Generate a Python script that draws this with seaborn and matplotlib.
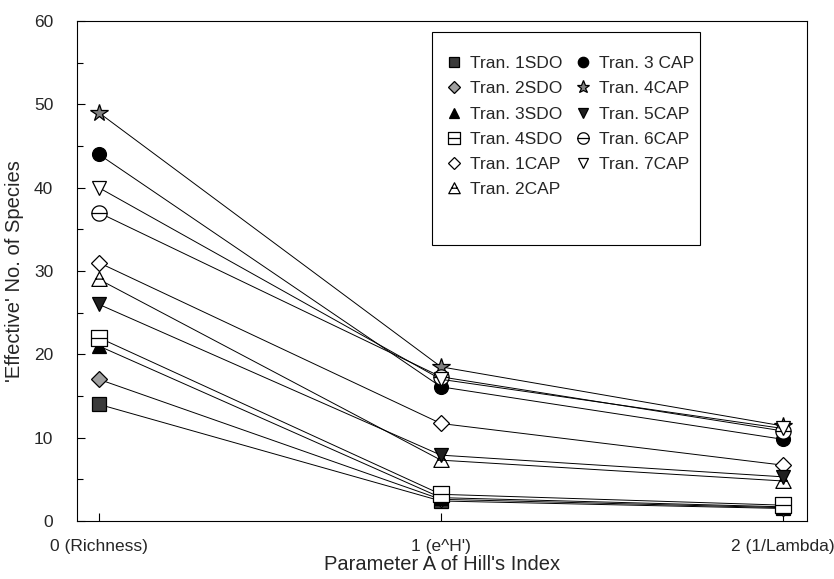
import numpy as np
import pandas as pd
import matplotlib
matplotlib.use("Agg")
import matplotlib.pyplot as plt
from matplotlib.path import Path
from matplotlib.patches import Rectangle
from matplotlib.ticker import MultipleLocator
import seaborn as sns

# x categories (parameter A of Hill's index)
x_vals = [0, 1, 2]
x_labels = ["0 (Richness)", "1 (e^H')", "2 (1/Lambda)"]

series = ["Tran. 1SDO", "Tran. 2SDO", "Tran. 3SDO", "Tran. 4SDO", "Tran. 1CAP",
          "Tran. 2CAP", "Tran. 3 CAP", "Tran. 4CAP", "Tran. 5CAP", "Tran. 6CAP", "Tran. 7CAP"]

sdo1 = [14, 2.4, 1.5]
sdo2 = [17, 2.6, 1.6]
sdo3 = [21, 2.8, 1.7]
sdo4 = [22, 3.2, 1.9]
cap1 = [31, 11.7, 6.7]
cap2 = [29, 7.3, 4.8]
cap3 = [44, 16.1, 9.8]
cap4 = [49, 18.5, 11.4]
cap5 = [26, 7.9, 5.3]
cap6 = [37, 17.3, 10.8]
cap7 = [40, 17.0, 11.1]

values = [sdo1, sdo2, sdo3, sdo4, cap1, cap2, cap3, cap4, cap5, cap6, cap7]

# custom marker shapes (open symbols with a bar through them)
sq_line = Path([(-1, -1), (1, -1), (1, 1), (-1, 1), (-1, -1), (-1, 0), (1, 0)],
               [Path.MOVETO, Path.LINETO, Path.LINETO, Path.LINETO, Path.CLOSEPOLY,
                Path.MOVETO, Path.LINETO])
tri_line = Path([(-1, -0.9), (1, -0.9), (0, 1), (-1, -0.9), (-0.5, 0.05), (0.5, 0.05)],
                [Path.MOVETO, Path.LINETO, Path.LINETO, Path.CLOSEPOLY,
                 Path.MOVETO, Path.LINETO])
t = np.linspace(0, 2 * np.pi, 40)
circ_pts = list(zip(np.cos(t), np.sin(t)))
circ_line = Path(circ_pts + [(-1, 0), (1, 0)],
                 [Path.MOVETO] + [Path.LINETO] * 39 + [Path.MOVETO, Path.LINETO])

styles = [
    dict(marker="s", mfc="#3a3a3a", ms=10),
    dict(marker="D", mfc="#a0a0a0", ms=8),
    dict(marker="^", mfc="black", ms=10),
    dict(marker=sq_line, mfc="white", ms=11),
    dict(marker="D", mfc="white", ms=8),
    dict(marker=tri_line, mfc="white", ms=11),
    dict(marker="o", mfc="black", ms=10),
    dict(marker="*", mfc="#808080", ms=13),
    dict(marker="v", mfc="#202020", ms=10),
    dict(marker=circ_line, mfc="white", ms=11),
    dict(marker="v", mfc="white", ms=10),
]

sns.set_style("white")
plt.rcParams["font.family"] = ["Liberation Sans", "DejaVu Sans"]

fig = plt.figure(figsize=(8.34, 5.79), dpi=100)
ax = fig.add_axes([0.0923, 0.1002, 0.8753, 0.8635])

for name, vals, st in zip(series, values, styles):
    df = pd.DataFrame({"A": x_vals, "N": vals})
    sns.lineplot(data=df, x="A", y="N", ax=ax, color="black", lw=0.7,
                 marker=st["marker"], markersize=st["ms"], markerfacecolor=st["mfc"],
                 markeredgecolor="black", markeredgewidth=0.9, label=name)

ax.set_xlim(-0.064, 2.07)
ax.set_ylim(0, 60)
ax.set_xticks(x_vals)
ax.set_xticklabels(x_labels)
ax.yaxis.set_major_locator(MultipleLocator(10))
ax.yaxis.set_minor_locator(MultipleLocator(5))
ax.tick_params(axis="both", which="both", direction="in", labelsize=12.5, color="black",
               left=True, bottom=True)
ax.tick_params(axis="both", which="major", length=6, width=0.8)
ax.tick_params(axis="x", which="major", pad=13)
ax.tick_params(axis="y", which="major", pad=17)
ax.tick_params(axis="y", which="minor", length=4, width=0.8)
for sp in ax.spines.values():
    sp.set_color("black")
    sp.set_linewidth(0.8)

ax.set_xlabel("Parameter A of Hill's Index", fontsize=14.5, labelpad=1)
ax.set_ylabel("'Effective' No. of Species", fontsize=14.5, labelpad=7)

# legend box drawn separately (entries sit high inside it)
ax.add_patch(Rectangle((0.486, 0.552), 0.367, 0.426, transform=ax.transAxes,
                       facecolor="white", edgecolor="black", lw=0.8, zorder=4))
leg = ax.legend(loc="upper left", bbox_to_anchor=(0.51, 0.93), ncol=2, fontsize=12.5,
                frameon=False, borderpad=0, labelspacing=0.58, handlelength=0.6,
                handletextpad=0.6, columnspacing=0.9, borderaxespad=0)
leg.set_zorder(5)
for h in leg.legend_handles:
    h.set_linestyle("None")
    h.set_markersize(h.get_markersize() * 0.75)

fig.savefig("out.png", dpi=100)
